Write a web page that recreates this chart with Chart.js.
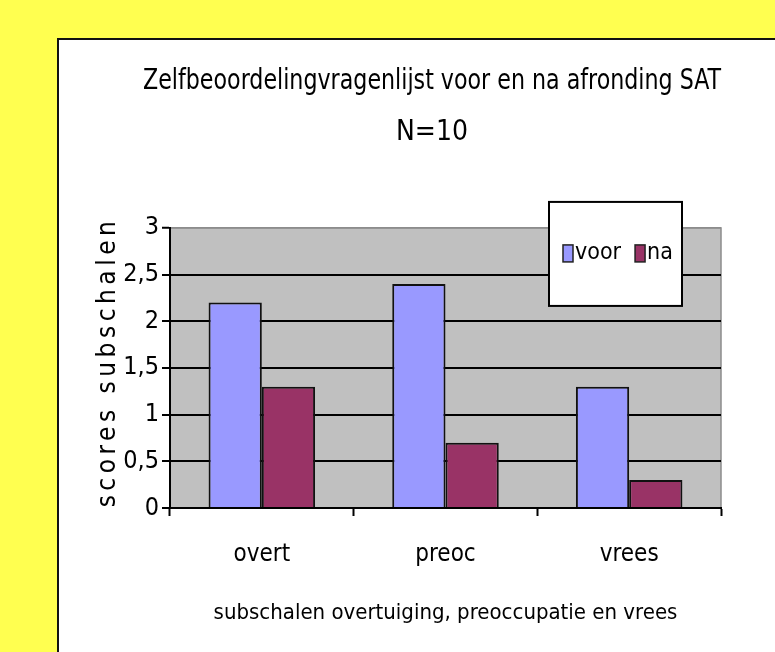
<!DOCTYPE html>
<html>
<head>
<meta charset="utf-8">
<script src="https://cdn.jsdelivr.net/npm/chart.js@4/dist/chart.umd.min.js"></script>
<style>
  html, body { margin: 0; padding: 0; width: 775px; height: 652px; overflow: hidden; background: #ffff50; }
  #frame { position: absolute; left: 57px; top: 38px; width: 760px; height: 660px; background: #fff; border: 2px solid #111; }
  #wrap { position: absolute; left: 0; top: 0; width: 775px; height: 652px; }
</style>
</head>
<body>
<div id="frame"></div>
<div id="wrap"><canvas id="chart"></canvas></div>
<script>
const categories = ['overt', 'preoc', 'vrees'];
const voor = [2.2, 2.4, 1.3];
const na = [1.3, 0.7, 0.3];
const seriesNames = ['voor', 'na'];
const titleLines = ['Zelfbeoordelingvragenlijst voor en na afronding SAT', 'N=10'];
const yTitle = 'scores subschalen';
const xTitle = 'subschalen overtuiging, preoccupatie en vrees';

const FONT = "'Liberation Sans Narrow', 'DejaVu Sans Condensed', 'Liberation Sans', sans-serif";

// grey plot background with a grey frame (axes drawn black on top)
const plotBg = {
  id: 'plotBg',
  beforeDraw(chart) {
    const { ctx, chartArea: a } = chart;
    // the y axis is kept narrow, so let its labels spill out to the left
    if (chart.scales.y) chart.scales.y._computeLabelArea = () => undefined;
    ctx.save();
    ctx.fillStyle = '#c0c0c0';
    ctx.fillRect(a.left, a.top, a.width, a.height);
    ctx.strokeStyle = '#8c8c8c';
    ctx.lineWidth = 1.5;
    ctx.strokeRect(a.left, a.top, a.width, a.height);
    ctx.restore();
  },
};

// excel-like legend box sitting over the top right of the plot
const boxLegend = {
  id: 'boxLegend',
  afterDraw(chart) {
    const { ctx, chartArea: a } = chart;
    const x = a.right - 172, y = a.top - 26, w = 133, h = 104;
    ctx.save();
    ctx.fillStyle = '#fff';
    ctx.fillRect(x, y, w, h);
    ctx.strokeStyle = '#000';
    ctx.lineWidth = 2;
    ctx.strokeRect(x, y, w, h);
    ctx.font = '23px ' + FONT;
    ctx.textBaseline = 'middle';
    ctx.textAlign = 'left';
    let cx = x + 14;
    const cy = y + 51;
    chart.data.datasets.forEach((ds) => {
      ctx.fillStyle = ds.backgroundColor;
      ctx.fillRect(cx, cy - 8, 10, 17);
      ctx.strokeStyle = '#222';
      ctx.lineWidth = 1.5;
      ctx.strokeRect(cx, cy - 8, 10, 17);
      ctx.fillStyle = '#000';
      ctx.fillText(ds.label, cx + 12, cy);
      cx += 12 + ctx.measureText(ds.label).width + 14;
    });
    ctx.restore();
  },
};

// spaced-out vertical axis title
const yAxisTitle = {
  id: 'yAxisTitle',
  afterDraw(chart) {
    const { ctx, chartArea: a } = chart;
    ctx.save();
    ctx.translate(a.left - 62, (a.top + a.bottom) / 2 - 6);
    ctx.rotate(-Math.PI / 2);
    ctx.font = '26px ' + FONT;
    ctx.letterSpacing = '4.5px';
    ctx.textAlign = 'center';
    ctx.textBaseline = 'middle';
    ctx.fillStyle = '#000';
    ctx.fillText(yTitle, 0, 0);
    ctx.restore();
  },
};

const config = {
  type: 'bar',
  data: {
    labels: categories,
    datasets: [
      {
        label: seriesNames[0],
        data: voor,
        backgroundColor: '#9999ff',
        borderColor: '#111',
        borderWidth: 2,
        categoryPercentage: 0.58,
        barPercentage: 1,
      },
      {
        label: seriesNames[1],
        data: na,
        backgroundColor: '#993366',
        borderColor: '#111',
        borderWidth: 2,
        categoryPercentage: 0.58,
        barPercentage: 1,
      },
    ],
  },
  options: {
    responsive: true,
    maintainAspectRatio: false,
    animation: false,
    layout: { padding: { top: 40, left: 143, right: 54, bottom: 10 } },
    plugins: {
      legend: { display: false },
      tooltip: { enabled: false },
      title: {
        display: true,
        text: titleLines,
        color: '#000',
        font: { family: FONT, size: 28, weight: 'normal', lineHeight: 1.82 },
        padding: { top: 16, bottom: 70 },
      },
    },
    scales: {
      x: {
        grid: {
          display: true,
          offset: true,
          drawOnChartArea: false,
          drawTicks: true,
          tickLength: 8,
          tickColor: '#000',
          tickWidth: 2,
        },
        border: { color: '#000', width: 2 },
        ticks: {
          color: '#000',
          font: { family: FONT, size: 24 },
          padding: 24,
          maxRotation: 0,
          autoSkip: false,
        },
        title: {
          display: true,
          text: xTitle,
          color: '#000',
          font: { family: FONT, size: 22 },
          padding: { top: 0, bottom: 16 },
        },
        afterFit(scale) {
          scale.height = 134;
        },
      },
      y: {
        min: 0,
        max: 3,
        ticks: {
          stepSize: 0.5,
          color: '#000',
          font: { family: FONT, size: 25 },
          padding: 3,
          callback: (v) => String(v).replace('.', ','),
        },
        grid: {
          color: (c) => (c.tick && c.tick.value === 3 ? '#8c8c8c' : '#000'),
          lineWidth: (c) => (c.tick && c.tick.value === 3 ? 1.5 : 2),
          tickColor: '#000',
          tickLength: 8,
          tickWidth: 2,
        },
        border: { color: '#000', width: 2 },
        afterFit(scale) {
          scale.width = 27;
        },
      },
    },
  },
  plugins: [plotBg, boxLegend, yAxisTitle],
};

const chart = new Chart(document.getElementById('chart'), config);
</script>
</body>
</html>
